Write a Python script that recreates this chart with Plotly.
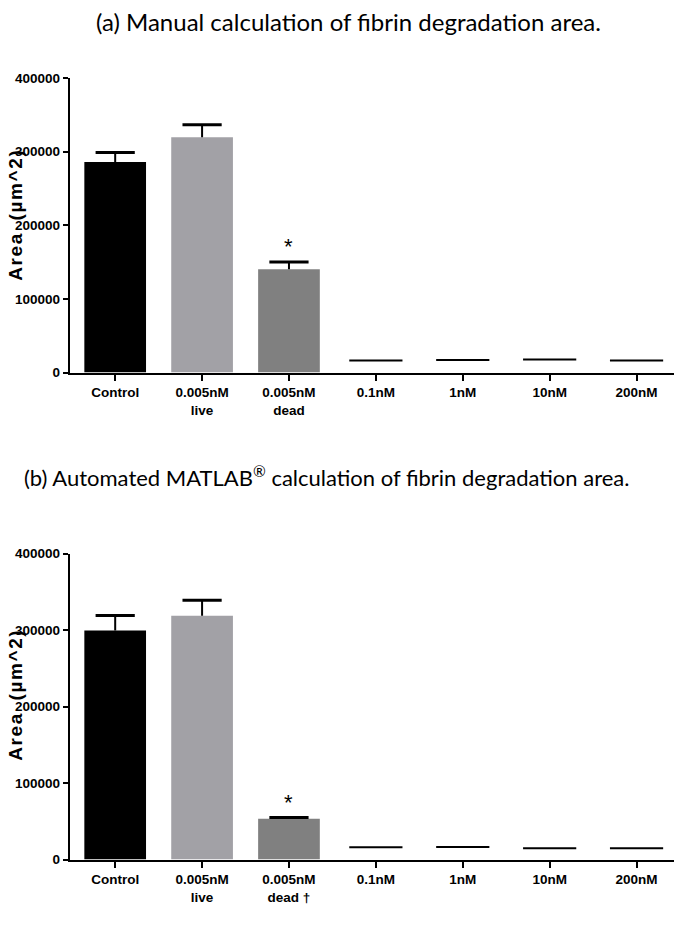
import plotly.graph_objects as go

categories = ["Control", "0.005nM live", "0.005nM dead", "0.1nM", "1nM", "10nM", "200nM"]
tick_labels_a = ["Control", "0.005nM<br>live", "0.005nM<br>dead", "0.1nM", "1nM", "10nM", "200nM"]
tick_labels_b = ["Control", "0.005nM<br>live", "0.005nM<br>dead †", "0.1nM", "1nM", "10nM", "200nM"]

# Panel (a) manual calculation
bar_vals_a = [286000, 319500, 140200]
bar_sem_a = [12700, 17000, 9900]
line_vals_a = [16300, 17000, 17800, 16500]

# Panel (b) automated MATLAB calculation
bar_vals_b = [299600, 319000, 53400]
bar_sem_b = [19500, 20000, 1500]
line_vals_b = [16000, 16500, 14800, 14800]

bar_colors = ["#000000", "#a2a1a6", "#808080"]
y_ticks = [0, 100000, 200000, 300000, 400000]

# page body has an 8px margin: work in target-window pixels and convert
OFF = 8
W, H = 682 - OFF, 934 - OFF


def px_x(x):
    return (x - OFF) / W


def px_y(y):
    return 1 - (y - OFF) / H


x_dom = [px_x(70), px_x(680)]
dom_a = [px_y(371.5), px_y(72)]
dom_b = [px_y(866.5), px_y(555.6)]

tick_font = dict(family="Liberation Sans, Arial, sans-serif", size=13.5, color="black", weight="bold")

fig = go.Figure()

bar_x = list(range(3))
line_x = list(range(3, 7))

for (vals, sem, lines, xa, ya) in [
    (bar_vals_a, bar_sem_a, line_vals_a, "x", "y"),
    (bar_vals_b, bar_sem_b, line_vals_b, "x2", "y2"),
]:
    fig.add_trace(go.Bar(
        x=bar_x, y=vals, xaxis=xa, yaxis=ya,
        marker=dict(color=bar_colors, line=dict(width=0)),
        width=0.71, showlegend=False,
    ))
    # upward-only error bars: stem down from the cap to the mean, cap drawn as a marker
    tops = [v + s for v, s in zip(vals, sem)]
    fig.add_trace(go.Scatter(
        x=bar_x, y=tops, xaxis=xa, yaxis=ya, mode="markers",
        marker=dict(symbol="line-ew", size=28, line=dict(width=3, color="black")),
        error_y=dict(type="data", symmetric=False, array=[0] * len(sem), arrayminus=sem,
                     color="black", thickness=2, width=0),
        showlegend=False,
    ))
    fig.add_trace(go.Scatter(
        x=line_x, y=lines, xaxis=xa, yaxis=ya, mode="markers",
        marker=dict(symbol="line-ew", size=38, line=dict(width=2, color="black")),
        showlegend=False,
    ))

axis_common = dict(showgrid=False, zeroline=False, showline=True, linecolor="black", linewidth=2.4,
                   ticks="outside", tickcolor="black", tickwidth=2, tickfont=tick_font)

fig.update_layout(
    width=W, height=H,
    margin=dict(l=0, r=0, t=0, b=0),
    paper_bgcolor="white", plot_bgcolor="white",
    xaxis=dict(domain=x_dom, anchor="y", range=[-0.52, 6.5], tickvals=list(range(7)),
               ticktext=tick_labels_a, ticklen=6, **axis_common),
    yaxis=dict(domain=dom_a, anchor="x", range=[0, 400000], tickvals=y_ticks,
               ticktext=[str(v) for v in y_ticks], ticklen=5, **axis_common),
    xaxis2=dict(domain=x_dom, anchor="y2", range=[-0.52, 6.5], tickvals=list(range(7)),
                ticktext=tick_labels_b, ticklen=6, **axis_common),
    yaxis2=dict(domain=dom_b, anchor="x2", range=[0, 400000], tickvals=y_ticks,
                ticktext=[str(v) for v in y_ticks], ticklen=5, **axis_common),
)

title_font_a = dict(family="Lato, Open Sans, sans-serif", size=24, color="black")
title_font_b = dict(family="Lato, Open Sans, sans-serif", size=22, color="black")
y_title_font = dict(family="Liberation Sans, Arial, sans-serif", size=19, color="black", weight="bold")
hs = "\u200a"
y_title = hs.join("Area") + "\u2002\u2009" + hs.join("(µm^2)")
star_font = dict(family="Liberation Sans, Arial", size=22, color="black")

annotations = [
    dict(text="(a) Manual calculation of fibrin degradation area.", x=px_x(348), y=px_y(15),
         xref="paper", yref="paper", showarrow=False, font=title_font_a, xanchor="center", yanchor="middle"),
    dict(text="(b) Automated MATLAB<sup>®</sup> calculation of fibrin degradation area.",
         x=px_x(326), y=px_y(477), xref="paper", yref="paper", showarrow=False, font=title_font_b,
         xanchor="center", yanchor="middle"),
    dict(text=y_title, x=px_x(16), y=px_y(212), xref="paper", yref="paper",
         textangle=-90, showarrow=False, font=y_title_font, xanchor="center", yanchor="middle"),
    dict(text=y_title, x=px_x(16), y=px_y(700), xref="paper", yref="paper",
         textangle=-90, showarrow=False, font=y_title_font, xanchor="center", yanchor="middle"),
    dict(text="*", x=2, y=bar_vals_a[2] + bar_sem_a[2], xref="x", yref="y", showarrow=False,
         yanchor="bottom", yshift=1, font=star_font),
    dict(text="*", x=2, y=bar_vals_b[2] + bar_sem_b[2], xref="x2", yref="y2", showarrow=False,
         yanchor="bottom", yshift=1, font=star_font),
]
fig.update_layout(annotations=annotations)

fig.write_html("out.html")
